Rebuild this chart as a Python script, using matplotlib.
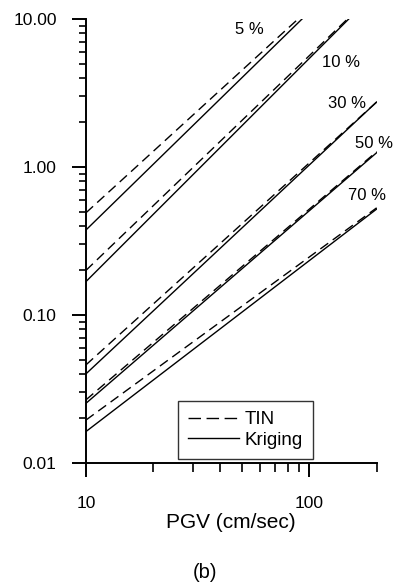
import numpy as np
import matplotlib.pyplot as plt
from matplotlib.lines import Line2D
from matplotlib.ticker import FixedLocator, NullFormatter, FixedFormatter

plt.rcParams['font.family'] = ['Liberation Sans', 'DejaVu Sans']

# end points of each curve (PGV, damage ratio)
pgv = [10, 200]
levels = ['5 %', '10 %', '30 %', '50 %', '70 %']
tin_x = [[10, 89], [10, 148], [10, 200], [10, 200], [10, 200]]
tin_y = [[0.49, 10.0], [0.20, 10.0], [0.046, 2.75], [0.0267, 1.27], [0.0195, 0.53]]
krig_x = [[10, 92.7], [10, 150], [10, 200], [10, 200], [10, 200]]
krig_y = [[0.375, 10.0], [0.168, 10.0], [0.040, 2.75], [0.0253, 1.25], [0.0163, 0.52]]
label_x = [53.7, 138, 147, 194, 181]
label_y = [8.55, 5.1, 2.7, 1.45, 0.64]

fig = plt.figure(figsize=(3.94, 5.85), dpi=100)
ax = fig.add_axes([0.218, 0.2085, 0.738, 0.759])

for i in range(len(levels)):
    ax.plot(tin_x[i], tin_y[i], color='black', lw=1.0, linestyle=(0, (7, 4)))
    ax.plot(krig_x[i], krig_y[i], color='black', lw=1.0)
    ax.text(label_x[i], label_y[i], levels[i], fontsize=12, ha='center', va='center',
            clip_on=False)

ax.set_xscale('log')
ax.set_yscale('log')
ax.set_xlim(pgv[0], pgv[1])
ax.set_ylim(0.01, 10)

ax.spines['top'].set_visible(False)
ax.spines['right'].set_visible(False)
ax.spines['left'].set_linewidth(1.4)
ax.spines['bottom'].set_linewidth(1.4)

ax.xaxis.set_major_locator(FixedLocator([10, 100]))
ax.xaxis.set_major_formatter(FixedFormatter(['10', '100']))
ax.xaxis.set_minor_locator(FixedLocator([20, 30, 40, 50, 60, 70, 80, 90, 200]))
ax.xaxis.set_minor_formatter(NullFormatter())
ax.yaxis.set_major_locator(FixedLocator([0.01, 0.1, 1, 10]))
ax.yaxis.set_major_formatter(FixedFormatter(['0.01', '0.10', '1.00', '10.00']))
ax.yaxis.set_minor_locator(FixedLocator(
    [k * 10.0 ** e for e in (-2, -1, 0) for k in range(2, 10)]))
ax.yaxis.set_minor_formatter(NullFormatter())

ax.tick_params(axis='both', which='major', direction='out', length=10, width=1.4,
               labelsize=12.5)
ax.tick_params(axis='x', which='major', pad=14)
ax.tick_params(axis='y', which='major', pad=11)
ax.tick_params(axis='x', which='minor', direction='out', length=6.5, width=1.2)
ax.tick_params(axis='y', which='minor', direction='out', length=5, width=1.2)

ax.set_xlabel('PGV (cm/sec)', fontsize=15, labelpad=1)

handles = [Line2D([], [], color='black', lw=1.0, linestyle=(0, (9, 4))),
           Line2D([], [], color='black', lw=1.0)]
leg = ax.legend(handles, ['TIN', 'Kriging'], loc='upper left',
                bbox_to_anchor=(0.3165, 0.1396), fontsize=13.5,
                frameon=True, fancybox=False, edgecolor='black', handlelength=2.7,
                handletextpad=0.3, borderpad=0.55, labelspacing=0.18,
                borderaxespad=0)
leg.get_frame().set_linewidth(1.0)

fig.text(0.52, 1 - 572 / 585, '(b)', fontsize=14.5, ha='center', va='center')

fig.savefig('out.png', dpi=100)
